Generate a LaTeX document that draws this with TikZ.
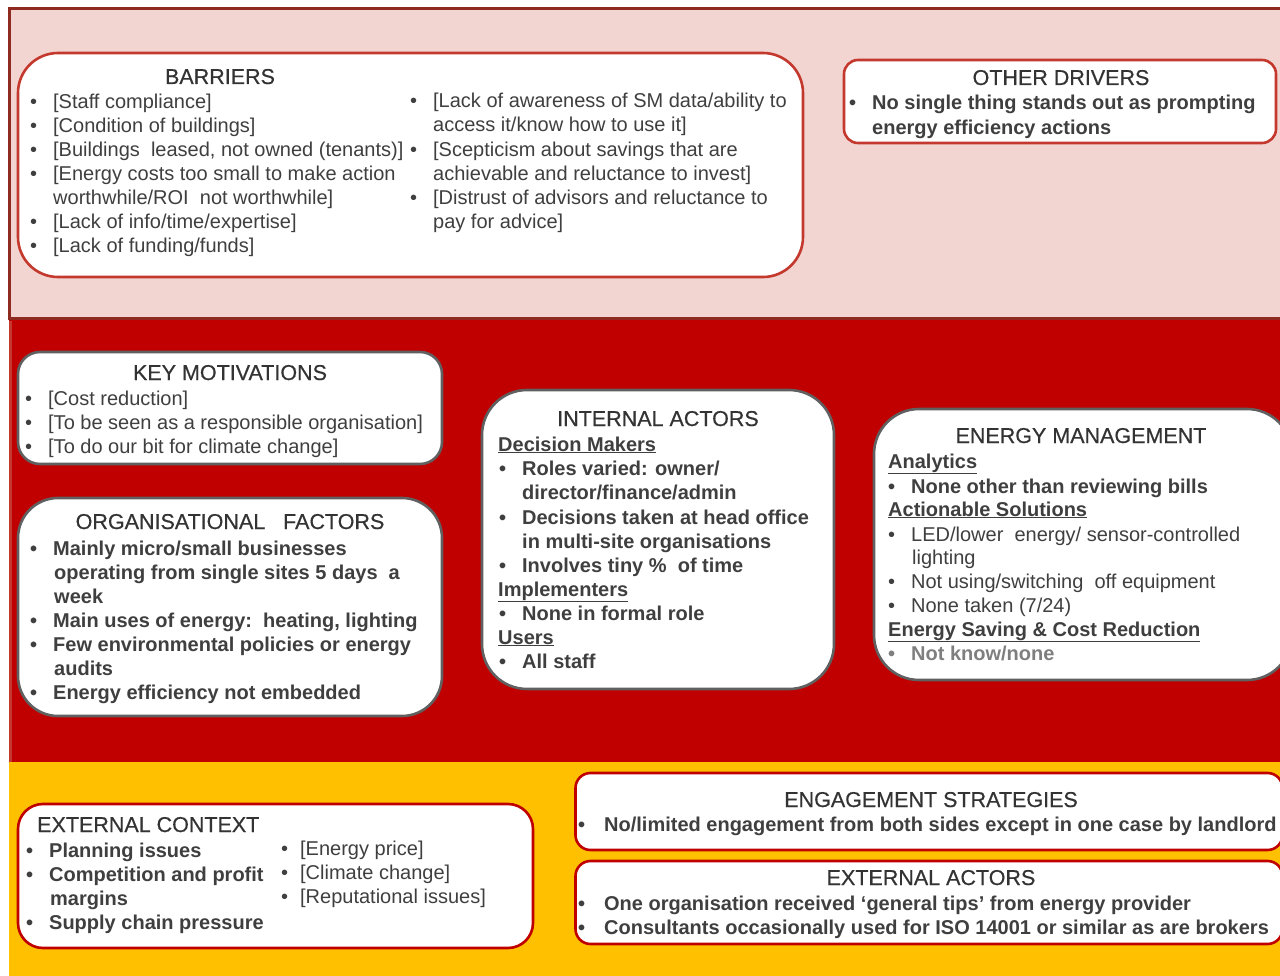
\documentclass[tikz,border=0pt]{standalone}
\usepackage{fontspec}
\setmainfont{Liberation Sans}
\newfontfamily\titlef[FakeBold=0.45]{Liberation Sans}
\definecolor{pinkbg}{HTML}{F2D4D1}
\definecolor{darkred}{HTML}{8E2A1F}
\definecolor{redbg}{HTML}{C00000}
\definecolor{yellowbg}{HTML}{FFC000}
\definecolor{boxred}{HTML}{C4392E}
\definecolor{boxgray}{HTML}{606060}
\definecolor{txtc}{HTML}{3F3F3F}
\definecolor{ttlc}{HTML}{333333}
\definecolor{greytxt}{HTML}{7F7F7F}
\newcommand\blt{\makebox[23pt][l]{•}}
\begin{document}
\begin{tikzpicture}[x=1pt,y=-1pt,
  panel/.style={draw, fill=white, line width=2.6pt, inner sep=0pt, outer sep=0pt},
  txt/.style={anchor=base west, inner sep=0pt, text=txtc, font=\fontsize{20}{24}\selectfont},
  btxt/.style={txt, font=\fontsize{20}{24}\selectfont\bfseries},
  ttl/.style={anchor=base, inner sep=0pt, text=ttlc, font=\fontsize{21.5}{25}\selectfont\titlef}
]
\useasboundingbox (0,0) rectangle (1280,976);
\clip (0,0) rectangle (1280,976);
% bands
\fill[white] (0,0) rectangle (1280,976);
\fill[yellowbg] (9,760) rectangle (1285,980);
\fill[redbg] (9,319) rectangle (1285,762);
\draw[boxred, line width=3pt] (10.5,321) -- (10.5,762);
\draw[darkred, fill=pinkbg, line width=3pt] (9.5,9) rectangle (1290,319);

% ---------- BARRIERS
\node[panel, draw=boxred, rounded corners=40pt, minimum width=785pt, minimum height=224pt] (barriers) at (410.5,165) {};
\node[ttl] (barT) at (220,84) {BARRIERS};
\node[txt] (bar1) at (30,109) {\blt[Staff compliance]};
\node[txt] (bar2) at (30,133) {\blt[Condition of buildings]};
\node[txt] (bar3) at (30,157) {\blt[Buildings\ \ leased, not owned (tenants)]};
\node[txt] (bar4) at (30,181) {\blt[Energy costs too small to make action};
\node[txt] (bar4b) at (53,205) {worthwhile/ROI\ \ not worthwhile]};
\node[txt] (bar5) at (30,229) {\blt[Lack of info/time/expertise]};
\node[txt] (bar6) at (30,253) {\blt[Lack of funding/funds]};
\node[txt] (bar7) at (410,108) {\blt[Lack of awareness of SM data/ability to};
\node[txt] (bar7b) at (433,132) {access it/know how to use it]};
\node[txt] (bar8) at (410,157) {\blt[Scepticism about savings that are};
\node[txt] (bar8b) at (433,181) {achievable and reluctance to invest]};
\node[txt] (bar9) at (410,205) {\blt[Distrust of advisors and reluctance to};
\node[txt] (bar9b) at (433,229) {pay for advice]};

% ---------- OTHER DRIVERS
\node[panel, draw=boxred, rounded corners=14pt, minimum width=432pt, minimum height=83pt] (other) at (1060,101.5) {};
\node[ttl] (othT) at (1061,85) {OTHER DRIVERS};
\node[btxt] (oth1) at (849,110) {\blt No single thing stands out as prompting};
\node[btxt] (oth1b) at (872,135) {energy efficiency actions};

% ---------- KEY MOTIVATIONS
\node[panel, draw=boxgray, rounded corners=22pt, minimum width=424pt, minimum height=112pt] (keymot) at (230,408) {};
\node[ttl] (kmT) at (230,380) {KEY MOTIVATIONS};
\node[txt] (km1) at (25,405) {\blt[Cost reduction]};
\node[txt] (km2) at (25,429) {\blt[To be seen as a responsible organisation]};
\node[txt] (km3) at (25,453) {\blt[To do our bit for climate change]};

% ---------- ORGANISATIONAL FACTORS
\node[panel, draw=boxgray, rounded corners=40pt, minimum width=424pt, minimum height=218pt] (orgfac) at (230,607) {};
\node[ttl] (ofT) at (230,529) {ORGANISATIONAL\ \ \ FACTORS};
\node[btxt] (of1) at (30,555) {\blt Mainly micro/small businesses};
\node[btxt] (of1b) at (54,579) {operating from single sites 5 days\ \ a};
\node[btxt] (of1c) at (54,603) {week};
\node[btxt] (of2) at (30,627) {\blt Main uses of energy:\ \ heating, lighting};
\node[btxt] (of3) at (30,651) {\blt Few environmental policies or energy};
\node[btxt] (of3b) at (54,675) {audits};
\node[btxt] (of4) at (30,699) {\blt Energy efficiency not embedded};

% ---------- INTERNAL ACTORS
\node[panel, draw=boxgray, rounded corners=45pt, minimum width=352pt, minimum height=299pt] (intact) at (658,539.5) {};
\node[ttl] (iaT) at (658,426) {INTERNAL ACTORS};
\node[btxt] (ia1) at (498,451) {\underline{Decision Makers}};
\node[btxt] (ia2) at (499,475) {\blt Roles varied: owner/};
\node[btxt] (ia2b) at (522,499) {director/finance/admin};
\node[btxt] (ia3) at (499,524) {\blt Decisions taken at head office};
\node[btxt] (ia3b) at (522,548) {in multi-site organisations};
\node[btxt] (ia4) at (499,572) {\blt Involves tiny \%\ \ of time};
\node[btxt] (ia5) at (498,596) {\underline{Implementers}};
\node[btxt] (ia6) at (499,620) {\blt None in formal role};
\node[btxt] (ia7) at (498,644) {\underline{Users}};
\node[btxt] (ia8) at (499,668) {\blt All staff};

% ---------- ENERGY MANAGEMENT
\node[panel, draw=boxgray, rounded corners=45pt, minimum width=418pt, minimum height=271pt] (energy) at (1083,544.5) {};
\node[ttl] (emT) at (1081,443) {ENERGY MANAGEMENT};
\node[btxt] (em1) at (888,468) {\underline{Analytics}};
\node[btxt] (em2) at (888,493) {\blt None other than reviewing bills};
\node[btxt] (em3) at (888,516) {\underline{Actionable Solutions}};
\node[txt] (em4) at (888,541) {\blt LED/lower\ \ energy/\ sensor-controlled};
\node[txt] (em4b) at (912,564) {lighting};
\node[txt] (em5) at (888,588) {\blt Not using/switching\ \ off equipment};
\node[txt] (em6) at (888,612) {\blt None taken (7/24)};
\node[btxt] (em7) at (888,636) {\underline{Energy Saving \& Cost Reduction}};
\node[btxt, text=greytxt] (em8) at (888,660) {\blt Not know/none};

% ---------- EXTERNAL CONTEXT
\node[panel, draw=redbg, rounded corners=25pt, minimum width=515pt, minimum height=144pt] (extctx) at (275.5,876) {};
\node[ttl, anchor=base west] (ecT) at (37,832) {EXTERNAL CONTEXT};
\node[btxt] (ec1) at (26,857) {\blt Planning issues};
\node[btxt] (ec2) at (26,881) {\blt Competition and profit};
\node[btxt] (ec2b) at (50,905) {margins};
\node[btxt] (ec3) at (26,929) {\blt Supply chain pressure};
\node[txt] (ec4) at (281,855) {\makebox[19pt][l]{•}[Energy price]};
\node[txt] (ec5) at (281,879) {\makebox[19pt][l]{•}[Climate change]};
\node[txt] (ec6) at (281,903) {\makebox[19pt][l]{•}[Reputational issues]};

% ---------- ENGAGEMENT STRATEGIES
\node[panel, draw=redbg, rounded corners=15pt, minimum width=707pt, minimum height=77pt] (engage) at (929,811.5) {};
\node[ttl] (esT) at (931,807) {ENGAGEMENT STRATEGIES};
\node[btxt] (es1) at (578,831) {\makebox[26pt][l]{•}No/limited engagement from both sides except in one case by landlord};

% ---------- EXTERNAL ACTORS
\node[panel, draw=redbg, rounded corners=15pt, minimum width=707pt, minimum height=83pt] (extact) at (929,902.5) {};
\node[ttl] (eaT) at (931,885) {EXTERNAL ACTORS};
\node[btxt] (ea1) at (578,910) {\makebox[26pt][l]{•}One organisation received ‘general tips’ from energy provider};
\node[btxt] (ea2) at (578,934) {\makebox[26pt][l]{•}Consultants occasionally used for ISO 14001 or similar as are brokers};
\end{tikzpicture}
\end{document}
